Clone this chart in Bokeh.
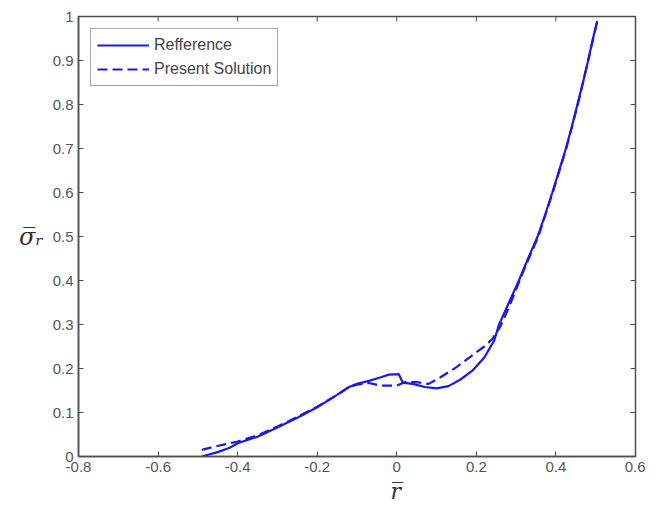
import math
from bokeh.plotting import figure
from bokeh.models import Range1d, LinearAxis, FixedTicker, Legend, LegendItem, Title
from bokeh.embed import file_html
from bokeh.resources import INLINE

# Data
ref_x = [-0.49, -0.47, -0.45, -0.42, -0.40, -0.35, -0.30, -0.25, -0.20, -0.15, -0.12,
         -0.10, -0.07, -0.04, -0.02, 0.005, 0.015, 0.04, 0.07, 0.10, 0.13, 0.16, 0.19,
         0.22, 0.245, 0.257, 0.282, 0.307, 0.33, 0.354, 0.373, 0.391, 0.408, 0.425,
         0.44, 0.454, 0.468, 0.481, 0.493, 0.504]
ref_y = [0.0, 0.005, 0.01, 0.02, 0.03, 0.045, 0.066, 0.088, 0.112, 0.14, 0.158,
         0.165, 0.172, 0.18, 0.186, 0.187, 0.168, 0.165, 0.158, 0.155, 0.16, 0.175, 0.195,
         0.225, 0.264, 0.30, 0.35, 0.40, 0.45, 0.50, 0.55, 0.60, 0.65, 0.70,
         0.75, 0.80, 0.85, 0.90, 0.95, 0.99]

sol_x = [-0.49, -0.46, -0.43, -0.40, -0.35, -0.30, -0.25, -0.20, -0.15, -0.12, -0.10,
         -0.07, -0.04, 0.0, 0.02, 0.05, 0.08, 0.11, 0.15, 0.19, 0.22, 0.24, 0.26, 0.28,
         0.30, 0.32, 0.356, 0.392, 0.426, 0.455, 0.481, 0.504]
sol_y = [0.015, 0.022, 0.028, 0.034, 0.048, 0.068, 0.09, 0.113, 0.14, 0.158, 0.163,
         0.167, 0.161, 0.161, 0.169, 0.169, 0.165, 0.18, 0.203, 0.23, 0.25, 0.267, 0.295, 0.335,
         0.38, 0.425, 0.50, 0.60, 0.70, 0.80, 0.90, 0.99]

x_ticks = [-0.8, -0.6, -0.4, -0.2, 0.0, 0.2, 0.4, 0.6]
x_tick_labels = ["-0.8", "-0.6", "-0.4", "-0.2", "0", "0.2", "0.4", "0.6"]
y_ticks = [0.0, 0.1, 0.2, 0.3, 0.4, 0.5, 0.6, 0.7, 0.8, 0.9, 1.0]
y_tick_labels = ["0", "0.1", "0.2", "0.3", "0.4", "0.5", "0.6", "0.7", "0.8", "0.9", "1"]

legend_labels = ["Refference", "Present Solution"]
x_label = "r\u0305"
y_label = "\u03c3\u0305\u1d63"

line_color = "#1a1ae6"
axis_color = "#4d4d4d"
text_color = "#555555"

X_MIN, X_MAX = -0.8, 0.6
Y_MIN, Y_MAX = 0.0, 1.0

p = figure(width=645, height=505, output_backend="svg", toolbar_location=None,
           x_range=Range1d(X_MIN, X_MAX), y_range=Range1d(Y_MIN, Y_MAX),
           min_border_left=78, min_border_right=10, min_border_top=16, min_border_bottom=49,
           x_axis_location=None, y_axis_location=None)
p.grid.visible = False
p.outline_line_color = axis_color
p.outline_line_width = 1.5
p.background_fill_color = "white"
p.border_fill_color = "white"


def style_axis(ax, ticks, labels):
    ax.ticker = FixedTicker(ticks=ticks)
    ax.major_label_overrides = {t: l for t, l in zip(ticks, labels)}
    ax.major_tick_in = 5
    ax.major_tick_out = 0
    ax.minor_tick_line_color = None
    ax.axis_line_color = axis_color
    ax.axis_line_width = 1.5
    ax.major_tick_line_color = axis_color
    ax.major_tick_line_width = 1
    ax.major_label_text_font = "Liberation Sans"
    ax.major_label_text_font_size = "15px"
    ax.major_label_text_color = text_color
    ax.major_label_standoff = 5


bottom = LinearAxis()
style_axis(bottom, x_ticks, x_tick_labels)
p.add_layout(bottom, "below")
left = LinearAxis(axis_label=y_label, axis_label_orientation="horizontal",
                  axis_label_standoff=6)
style_axis(left, y_ticks, y_tick_labels)
left.axis_label_text_font = "DejaVu Serif"
left.axis_label_text_font_style = "italic"
left.axis_label_text_font_size = "24px"
left.axis_label_text_color = "#333333"
p.add_layout(left, "left")

# inward ticks on the top and right edges of the box (half of each dash is clipped)
p.scatter(x_ticks, [Y_MAX] * len(x_ticks), marker="dash", size=10, angle=math.pi / 2,
          line_color=axis_color, line_width=1)
p.scatter([X_MAX] * len(y_ticks), y_ticks, marker="dash", size=10,
          line_color=axis_color, line_width=1)

r1 = p.line(ref_x, ref_y, line_color=line_color, line_width=2.2)
r2 = p.line(sol_x, sol_y, line_color=line_color, line_width=2.2, line_dash="10 5")

legend = Legend(items=[LegendItem(label=legend_labels[0], renderers=[r1]),
                       LegendItem(label=legend_labels[1], renderers=[r2])],
                location="top_left", margin=12, padding=6, spacing=4,
                glyph_width=52, glyph_height=20, label_height=20, label_standoff=5,
                label_text_font="Liberation Sans", label_text_font_size="16px",
                label_text_color="#444444",
                border_line_color=axis_color, border_line_width=1.5,
                background_fill_color="white", background_fill_alpha=1.0)
p.add_layout(legend, "center")

xt = Title(text=x_label, align="left", offset=312, standoff=4,
           text_font="DejaVu Serif", text_font_style="italic", text_font_size="22px",
           text_color="#333333")
p.add_layout(xt, "below")

open("out.html", "w").write(file_html(p, INLINE))
